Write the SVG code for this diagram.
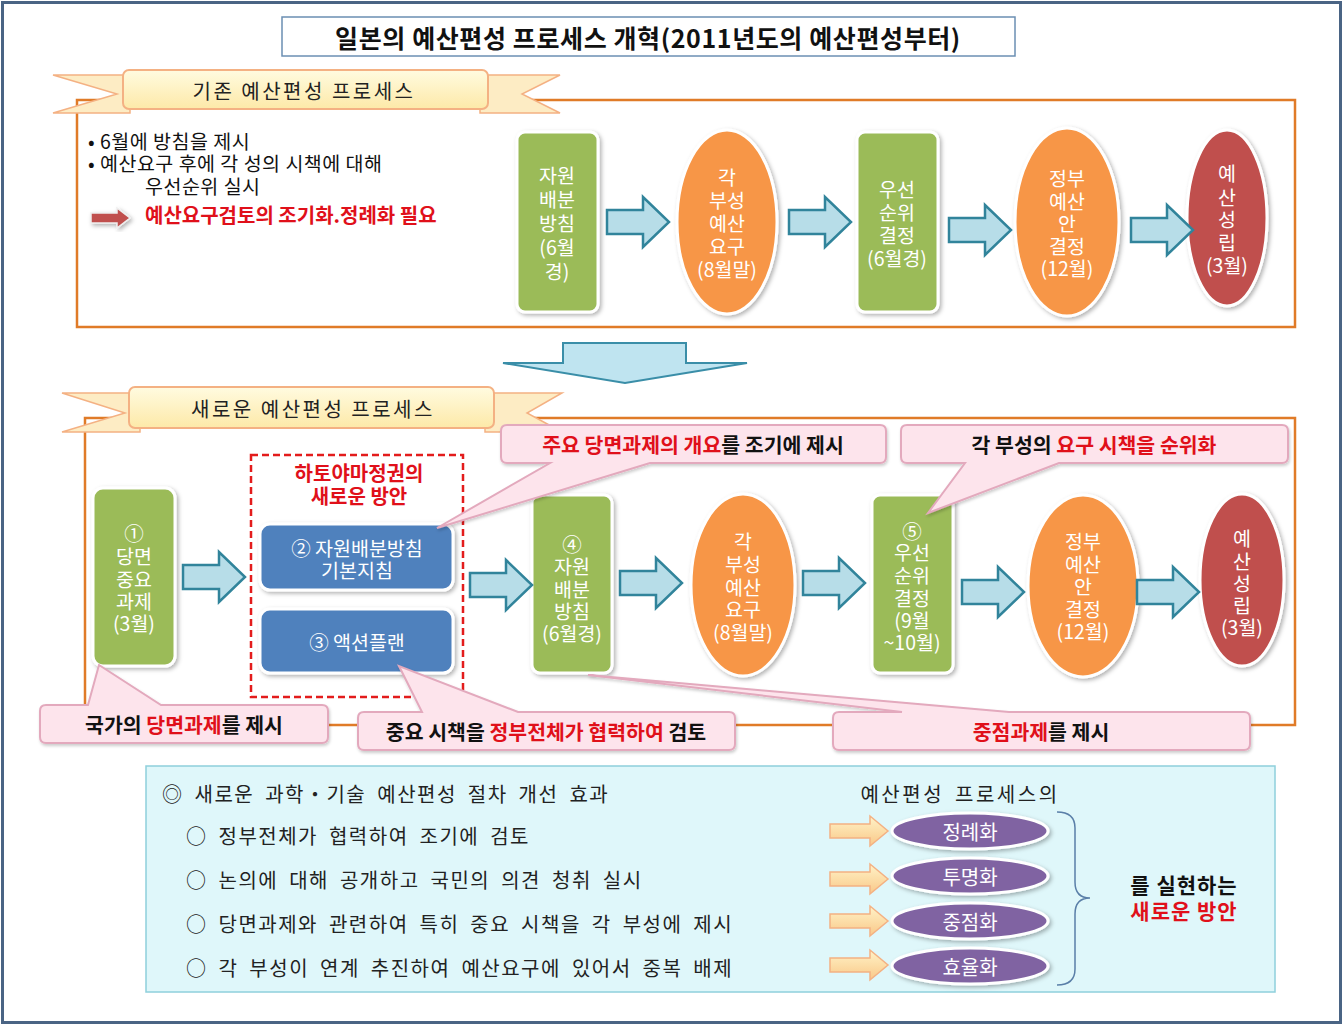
<svg xmlns="http://www.w3.org/2000/svg" width="1343" height="1025" viewBox="0 0 1343 1025">
<defs>
<style>
text{font-family:'Noto Sans CJK KR','Noto Sans',sans-serif;}
.nt{fill:#fff;font-size:19.5px;text-anchor:middle;dominant-baseline:central;}
.node{stroke:#fff;stroke-width:3;filter:url(#sh);}
.g{fill:#9bbb59}.o{fill:#f79646}.r{fill:#c0504d}.b{fill:#4f81bd}.p{fill:#8064a2}
.ba{fill:#b7dde8;stroke:#31849b;stroke-width:2.5;stroke-linejoin:miter}
.frame{fill:none;stroke:#e07b28;stroke-width:2.5}
.call{fill:#fde4ec;stroke:#e3a9bd;stroke-width:2;filter:url(#sh2)}
.ct{font-size:20.5px;font-weight:bold;text-anchor:middle;dominant-baseline:central;fill:#111}
.red{fill:#e0101a}
.tail{fill:#fdecc4;stroke:#f4b183;stroke-width:1.5}
.bn{fill:url(#ribbon);stroke:#f4b183;stroke-width:2}
.bt{font-size:20px;text-anchor:middle;dominant-baseline:central;fill:#222;letter-spacing:2.5px}
.lt{font-size:20px;fill:#222;word-spacing:5px;letter-spacing:1.5px;dominant-baseline:central}
.ya{fill:url(#yel);stroke:#f4b183;stroke-width:1.5}
.pt{fill:#fff;font-size:20px;text-anchor:middle;dominant-baseline:central}
.note{font-size:19.5px;fill:#111;dominant-baseline:central;letter-spacing:0.5px}
</style>
<filter id="sh" x="-20%" y="-20%" width="140%" height="140%">
<feDropShadow dx="2" dy="2" stdDeviation="2" flood-color="#000" flood-opacity="0.3"/>
</filter>
<filter id="sh2" x="-10%" y="-20%" width="120%" height="140%">
<feDropShadow dx="1" dy="2" stdDeviation="1.5" flood-color="#000" flood-opacity="0.2"/>
</filter>
<linearGradient id="ribbon" x1="0" y1="0" x2="0" y2="1">
<stop offset="0" stop-color="#fffbe0"/>
<stop offset="1" stop-color="#fde9a8"/>
</linearGradient>
<linearGradient id="yel" x1="0" y1="0" x2="0" y2="1">
<stop offset="0" stop-color="#fff3c8"/>
<stop offset="1" stop-color="#f9c888"/>
</linearGradient>
<path id="barrow" d="M0,-12 H36 V-25 L62,0 L36,25 V12 H0 Z"/>
<path id="yarrow" d="M0,-7 H40 V-15 L58,0 L40,15 V7 H0 Z"/>
</defs>

<rect x="0" y="0" width="1343" height="1025" fill="#fff"/>
<rect x="2.5" y="2.5" width="1338" height="1020" fill="none" stroke="#4a6484" stroke-width="3"/>

<g id="title">
<rect x="282" y="17" width="733" height="39" fill="#fff" stroke="#6b8fb3" stroke-width="1.5"/>
<text x="648" y="37" font-size="25" font-weight="bold" letter-spacing="0.6" text-anchor="middle" dominant-baseline="central" fill="#111">일본의 예산편성 프로세스 개혁(2011년도의 예산편성부터)</text>
</g>

<!-- top section -->
<rect class="frame" x="77" y="100" width="1218" height="227"/>
<g id="banner-old">
<path class="tail" d="M53,75 H130 V113 H53 L117,94 Z"/>
<path class="tail" d="M560,75 H480 V113 H560 L522,94 Z"/>
<rect class="bn" x="123" y="70" width="365" height="39" rx="6"/>
<text class="bt" x="304" y="90">기존 예산편성 프로세스</text>
</g>
<g id="old-notes">
<text class="note" x="88" y="140">• 6월에 방침을 제시</text>
<text class="note" x="88" y="162">• 예산요구 후에 각 성의 시책에 대해</text>
<text class="note" x="145" y="185">우선순위 실시</text>
<path d="M91,213 H117 V208 L130,218 L117,228 V223 H91 Z" fill="#c0504d" stroke="#eee" stroke-width="1.5" filter="url(#sh)"/>
<text x="145" y="214" font-size="20" font-weight="bold" class="red" dominant-baseline="central">예산요구검토의 조기화.정례화 필요</text>
</g>

<g id="o1">
<rect class="node g" x="517" y="132" width="81" height="180" rx="8"/>
<text class="nt"><tspan x="557" y="174">자원</tspan><tspan x="557" y="198">배분</tspan><tspan x="557" y="222">방침</tspan><tspan x="557" y="246">(6월</tspan><tspan x="557" y="270">경)</tspan></text>
</g>
<g id="o2">
<ellipse class="node o" cx="727" cy="222" rx="50" ry="92"/>
<text class="nt"><tspan x="727" y="176">각</tspan><tspan x="727" y="199">부성</tspan><tspan x="727" y="222">예산</tspan><tspan x="727" y="245">요구</tspan><tspan x="727" y="268">(8월말)</tspan></text>
</g>
<g id="o3">
<rect class="node g" x="857" y="132" width="81" height="180" rx="8"/>
<text class="nt"><tspan x="897" y="188">우선</tspan><tspan x="897" y="211">순위</tspan><tspan x="897" y="234">결정</tspan><tspan x="897" y="257">(6월경)</tspan></text>
</g>
<g id="o4">
<ellipse class="node o" cx="1067" cy="222" rx="52" ry="94"/>
<text class="nt"><tspan x="1067" y="177">정부</tspan><tspan x="1067" y="200">예산</tspan><tspan x="1067" y="222">안</tspan><tspan x="1067" y="245">결정</tspan><tspan x="1067" y="267">(12월)</tspan></text>
</g>
<g id="o5">
<ellipse class="node r" cx="1227" cy="218" rx="40" ry="88"/>
<text class="nt"><tspan x="1227" y="172">예</tspan><tspan x="1227" y="196">산</tspan><tspan x="1227" y="218">성</tspan><tspan x="1227" y="241">립</tspan><tspan x="1227" y="264">(3월)</tspan></text>
</g>

<g id="down-arrow">
<path d="M563,343 H686 V363 H747 L625,383 L503,363 H563 Z" fill="#bfe4f0" stroke="#3a8ea8" stroke-width="2"/>
</g>

<!-- bottom section -->
<rect class="frame" x="85" y="418" width="1210" height="307"/>
<g id="banner-new">
<path class="tail" d="M62,393 H140 V432 H62 L125,413 Z"/>
<path class="tail" d="M562,393 H485 V432 H562 L527,413 Z"/>
<rect class="bn" x="129" y="387" width="365" height="41" rx="6"/>
<text class="bt" x="313" y="408">새로운 예산편성 프로세스</text>
</g>

<g id="n1">
<rect class="node g" x="93" y="488" width="82" height="178" rx="10"/>
<text class="nt"><tspan x="134" y="532">①</tspan><tspan x="134" y="555">당면</tspan><tspan x="134" y="578">중요</tspan><tspan x="134" y="600">과제</tspan><tspan x="134" y="622">(3월)</tspan></text>
</g>
<g id="hatoyama">
<rect x="251" y="455" width="212" height="242" fill="none" stroke="#e31c1c" stroke-width="2.5" stroke-dasharray="7 4"/>
<text font-size="20" font-weight="bold" class="red" text-anchor="middle" dominant-baseline="central"><tspan x="359" y="472">하토야마정권의</tspan><tspan x="359" y="495">새로운 방안</tspan></text>
</g>
<g id="n2">
<rect class="node b" x="260" y="524" width="193" height="66" rx="10"/>
<text class="nt" font-size="20"><tspan x="357" y="547">② 자원배분방침</tspan><tspan x="357" y="569">기본지침</tspan></text>
</g>
<g id="n3">
<rect class="node b" x="260" y="609" width="193" height="64" rx="10"/>
<text class="nt" x="357" y="641" font-size="20">③ 액션플랜</text>
</g>
<g id="n4">
<rect class="node g" x="532" y="495" width="80" height="178" rx="8"/>
<text class="nt"><tspan x="572" y="543">④</tspan><tspan x="572" y="565">자원</tspan><tspan x="572" y="588">배분</tspan><tspan x="572" y="610">방침</tspan><tspan x="572" y="632">(6월경)</tspan></text>
</g>
<g id="n5">
<ellipse class="node o" cx="743" cy="585" rx="52" ry="91"/>
<text class="nt"><tspan x="743" y="540">각</tspan><tspan x="743" y="563">부성</tspan><tspan x="743" y="586">예산</tspan><tspan x="743" y="608">요구</tspan><tspan x="743" y="631">(8월말)</tspan></text>
</g>
<g id="n6">
<rect class="node g" x="872" y="495" width="81" height="178" rx="8"/>
<text class="nt"><tspan x="912" y="530">⑤</tspan><tspan x="912" y="551">우선</tspan><tspan x="912" y="574">순위</tspan><tspan x="912" y="597">결정</tspan><tspan x="912" y="619">(9월</tspan><tspan x="912" y="641">~10월)</tspan></text>
</g>
<g id="n7">
<ellipse class="node o" cx="1083" cy="586" rx="55" ry="91"/>
<text class="nt"><tspan x="1083" y="540">정부</tspan><tspan x="1083" y="563">예산</tspan><tspan x="1083" y="585">안</tspan><tspan x="1083" y="608">결정</tspan><tspan x="1083" y="630">(12월)</tspan></text>
</g>
<g id="n8">
<ellipse class="node r" cx="1242" cy="580" rx="42" ry="86"/>
<text class="nt"><tspan x="1242" y="537">예</tspan><tspan x="1242" y="560">산</tspan><tspan x="1242" y="582">성</tspan><tspan x="1242" y="604">립</tspan><tspan x="1242" y="626">(3월)</tspan></text>
</g>

<g id="connectors">
<use href="#barrow" class="ba" x="607" y="222"/>
<use href="#barrow" class="ba" x="789" y="222"/>
<use href="#barrow" class="ba" x="949" y="230"/>
<use href="#barrow" class="ba" x="1131" y="230"/>
<use href="#barrow" class="ba" x="183" y="577"/>
<use href="#barrow" class="ba" x="470" y="585"/>
<use href="#barrow" class="ba" x="620" y="583"/>
<use href="#barrow" class="ba" x="803" y="583"/>
<use href="#barrow" class="ba" x="962" y="592"/>
<use href="#barrow" class="ba" x="1137" y="592"/>
</g>

<g id="callout-a">
<path class="call" d="M507,425 H880 Q886,425 886,431 V457 Q886,463 880,463 H650 L437,528 L550,463 H507 Q501,463 501,457 V431 Q501,425 507,425 Z"/>
<text class="ct" x="693" y="444"><tspan class="red">주요 당면과제의 개요</tspan>를 조기에 제시</text>
</g>
<g id="callout-b">
<path class="call" d="M907,425 H1282 Q1288,425 1288,431 V457 Q1288,463 1282,463 H1059 L928,513 L965,463 H907 Q901,463 901,457 V431 Q901,425 907,425 Z"/>
<text class="ct" x="1094" y="444">각 부성의 <tspan class="red">요구 시책을 순위화</tspan></text>
</g>
<g id="callout-c">
<path class="call" d="M46,705 H88 L99,665 L161,705 H322 Q328,705 328,711 V737 Q328,743 322,743 H46 Q40,743 40,737 V711 Q40,705 46,705 Z"/>
<text class="ct" x="184" y="724">국가의 <tspan class="red">당면과제</tspan>를 제시</text>
</g>
<g id="callout-d">
<path class="call" d="M364,712 H422 L399,666 L518,712 H729 Q735,712 735,718 V744 Q735,750 729,750 H364 Q358,750 358,744 V718 Q358,712 364,712 Z"/>
<text class="ct" x="546" y="731">중요 시책을 <tspan class="red">정부전체가 협력하여</tspan> 검토</text>
</g>
<g id="callout-e">
<path class="call" d="M839,712 H902 L588,675 L1009,712 H1244 Q1250,712 1250,718 V744 Q1250,750 1244,750 H839 Q833,750 833,744 V718 Q833,712 839,712 Z"/>
<text class="ct" x="1041" y="731"><tspan class="red">중점과제</tspan>를 제시</text>
</g>

<!-- effects box -->
<g id="effects">
<rect x="146" y="766" width="1129" height="226" fill="#dff7fa" stroke="#8fd0dc" stroke-width="1.5"/>
<text class="lt" x="162" y="793">◎ 새로운 과학・기술 예산편성 절차 개선 효과</text>
<text class="lt" x="186" y="835">○ 정부전체가 협력하여 조기에 검토</text>
<text class="lt" x="186" y="879">○ 논의에 대해 공개하고 국민의 의견 청취 실시</text>
<text class="lt" x="186" y="923">○ 당면과제와 관련하여 특히 중요 시책을 각 부성에 제시</text>
<text class="lt" x="186" y="967">○ 각 부성이 연계 추진하여 예산요구에 있어서 중복 배제</text>
<text x="960" y="793" font-size="20" letter-spacing="2.5" word-spacing="4" text-anchor="middle" dominant-baseline="central" fill="#222">예산편성 프로세스의</text>
<use href="#yarrow" class="ya" x="830" y="831"/>
<use href="#yarrow" class="ya" x="830" y="879"/>
<use href="#yarrow" class="ya" x="830" y="921"/>
<use href="#yarrow" class="ya" x="830" y="965"/>
<path d="M1057,812 Q1075,812 1075,828 V882 Q1075,898 1090,898 Q1075,898 1075,914 V969 Q1075,985 1057,985" fill="none" stroke="#5a7fa8" stroke-width="1.5"/>
<text x="1184" y="884" font-size="21" font-weight="bold" letter-spacing="1" text-anchor="middle" dominant-baseline="central" fill="#111">를 실현하는</text>
<text x="1184" y="910" font-size="21" font-weight="bold" letter-spacing="1" text-anchor="middle" dominant-baseline="central" class="red">새로운 방안</text>
</g>
<g id="e1"><ellipse class="node p" cx="970" cy="831" rx="78" ry="18" stroke="#ece6f4"/><text class="pt" x="970" y="831">정례화</text></g>
<g id="e2"><ellipse class="node p" cx="970" cy="876" rx="78" ry="18" stroke="#ece6f4"/><text class="pt" x="970" y="876">투명화</text></g>
<g id="e3"><ellipse class="node p" cx="970" cy="921" rx="78" ry="18" stroke="#ece6f4"/><text class="pt" x="970" y="921">중점화</text></g>
<g id="e4"><ellipse class="node p" cx="970" cy="966" rx="78" ry="18" stroke="#ece6f4"/><text class="pt" x="970" y="966">효율화</text></g>
</svg>
